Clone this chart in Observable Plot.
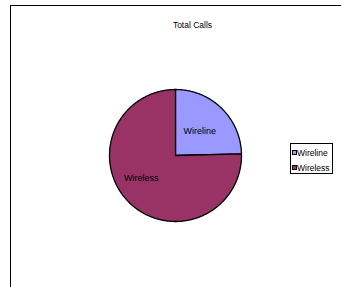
<!DOCTYPE html>
<html>
<head>
<meta charset="utf-8">
<script src="https://cdn.jsdelivr.net/npm/d3@7"></script>
<script src="https://cdn.jsdelivr.net/npm/@observablehq/plot@0.6"></script>
<style>
  html, body { margin: 0; padding: 0; background: #fff; }
  svg { font-family: "Liberation Sans", Arial, sans-serif; }
</style>
</head>
<body>
<div id="chart"></div>
<script>
const title = "Total Calls";
const categories = ["Wireline", "Wireless"];
const values = [24.6, 75.4];
const colors = ["#9999FF", "#993366"];

const arcs = d3.pie().sort(null)(values);
const rows = [];
arcs.forEach((a, i) => {
  const cat = categories[i];
  rows.push({cat, x: 0, y: 0});
  const n = Math.max(2, Math.ceil((a.endAngle - a.startAngle) / 0.01));
  for (let k = 0; k <= n; k++) {
    const t = a.startAngle + (a.endAngle - a.startAngle) * k / n;
    rows.push({cat, x: Math.sin(t), y: Math.cos(t)});
  }
});
const labels = arcs.map((a, i) => {
  const m = (a.startAngle + a.endAngle) / 2;
  return {cat: categories[i], x: 0.55 * Math.sin(m), y: 0.55 * Math.cos(m)};
});

const chart = Plot.plot({
  width: 341,
  height: 287,
  marginTop: 5,
  marginLeft: 10,
  marginRight: 1,
  marginBottom: 0,
  style: {fontFamily: '"Liberation Sans", Arial, sans-serif', background: "#fff"},
  x: {domain: [-1, 1], range: [109, 241], axis: null},
  y: {domain: [-1, 1], range: [221, 89], axis: null},
  color: {domain: categories, range: colors},
  marks: [
    Plot.frame({anchor: "top", stroke: "#000"}),
    Plot.frame({anchor: "left", stroke: "#000"}),
    Plot.text([title], {frameAnchor: "top", dx: 17, dy: 16, fontSize: 8.5, fill: "#000"}),
    Plot.line(rows, {x: "x", y: "y", z: "cat", fill: "cat", stroke: "#000", strokeWidth: 1.3, curve: "linear-closed"}),
    Plot.text(labels.filter(d => d.cat === "Wireline"), {x: "x", y: "y", text: "cat", fontSize: 9, fill: "#000", dx: -1, dy: 2}),
    Plot.text(labels.filter(d => d.cat === "Wireless"), {x: "x", y: "y", text: "cat", fontSize: 9, fill: "#000", dx: -9, dy: -3})
  ]
});
document.getElementById("chart").appendChild(chart);

// legend
const svg = d3.select(chart);
const lg = svg.append("g").attr("transform", "translate(290,143)").attr("text-anchor", "start");
lg.append("rect").attr("x", 0.5).attr("y", 0.5).attr("width", 42).attr("height", 30)
  .attr("fill", "#fff").attr("stroke", "#000").attr("stroke-width", 1);
categories.forEach((c, i) => {
  const g = lg.append("g").attr("transform", `translate(0,${10 + i * 15})`);
  g.append("rect").attr("x", 2.5).attr("y", -2.5).attr("width", 4).attr("height", 4)
    .attr("fill", colors[i]).attr("stroke", "#000").attr("stroke-width", 1);
  g.append("text").attr("x", 7).attr("y", 0).attr("dy", "0.35em").attr("text-anchor", "start")
    .attr("font-size", 8.5).attr("fill", "#000").text(c);
});
</script>
</body>
</html>
